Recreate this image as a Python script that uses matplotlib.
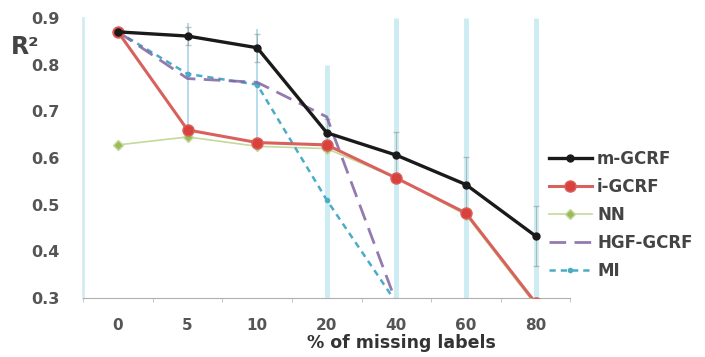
import numpy as np
import matplotlib.pyplot as plt

plt.rcParams['font.family'] = ['DejaVu Sans']

cats = ['0', '5', '10', '20', '40', '60', '80']
m_gcrf = [0.870, 0.861, 0.836, 0.654, 0.606, 0.543, 0.433]
m_err = [0.0, 0.02, 0.03, 0.03, 0.05, 0.06, 0.065]
i_gcrf = [0.870, 0.660, 0.633, 0.628, 0.557, 0.482, 0.290]
nn = [0.628, 0.645, 0.625, 0.620, 0.557, 0.478, 0.285]
hgf = [0.870, 0.770, 0.762, 0.688, 0.290, np.nan, np.nan]
mi = [0.870, 0.780, 0.757, 0.510, 0.290, 0.250, 0.200]
mi_err = [0.0, 0.11, 0.12, 0.29, 0.61, 0.65, 0.70]

x = np.arange(len(cats))

fig = plt.figure(figsize=(7.05, 3.57), dpi=100)
ax = fig.add_axes([0.118, 0.165, 0.691, 0.785])

# big light error bars (MI)
for i in range(len(x)):
    if mi_err[i] == 0:
        continue
    if i < 3:
        ax.errorbar(x[i], mi[i], yerr=mi_err[i], fmt='none', ecolor='#9fd3e3',
                    elinewidth=1.2, linestyle=':', alpha=0.9)
    else:
        ax.errorbar(x[i], mi[i], yerr=mi_err[i], fmt='none', ecolor='#c6eaf1',
                    elinewidth=3.5, alpha=0.9)
ax.errorbar(x, m_gcrf, yerr=m_err, fmt='none', ecolor='#8a8a8a', elinewidth=0.8,
            capsize=2, alpha=0.5)

ax.plot(x, nn, color='#c4d99a', lw=1.2, marker='D', ms=5, mfc='#9bbb59',
        mec='#c4d99a', label='NN', zorder=3)
ax.plot(x, mi, color='#4bacc6', lw=1.8, ls=(0, (2.5, 2)), marker='o', ms=3,
        label='MI', zorder=4)
ax.plot(x, hgf, color='#8064a2', lw=2, ls=(0, (6, 3)), alpha=0.85,
        label='HGF-GCRF', zorder=4)
ax.plot(x, i_gcrf, color='#d9615d', lw=2.2, marker='o', ms=8, mfc='#d9413c',
        mec='#d9615d', label='i-GCRF', zorder=5)
ax.plot(x, m_gcrf, color='#1a1a1a', lw=2.4, marker='o', ms=5,
        label='m-GCRF', zorder=6)

ax.set_xlim(-0.5, len(x) - 0.5)
ax.set_ylim(0.3, 0.9)
ax.set_yticks([0.3, 0.4, 0.5, 0.6, 0.7, 0.8, 0.9])
ax.set_yticklabels(['0.3', '0.4', '0.5', '0.6', '0.7', '0.8', '0.9'],
                   fontsize=11.5, fontweight='bold', color='#555555')
ax.set_xticks(x)
ax.set_xticklabels(cats, fontsize=11, fontweight='bold', color='#555555')
ax.set_xticks(np.arange(-0.5, len(x), 1.0), minor=True)
ax.tick_params(axis='x', which='major', length=0, pad=14)
ax.tick_params(axis='x', which='minor', length=3, color='#bbbbbb')
ax.tick_params(axis='y', length=0, pad=17)
for s in ['top', 'right']:
    ax.spines[s].set_visible(False)
ax.spines['left'].set_color('#d3ecf2')
ax.spines['left'].set_linewidth(2)
ax.spines['bottom'].set_color('#b0b0b0')

handles, labels = ax.get_legend_handles_labels()
order = ['m-GCRF', 'i-GCRF', 'NN', 'HGF-GCRF', 'MI']
hmap = dict(zip(labels, handles))
fig.legend([hmap[k] for k in order], order, loc='upper left',
           bbox_to_anchor=(0.757, 0.622), frameon=False, handlelength=2.6,
           handletextpad=0.3, labelspacing=0.6,
           prop={'size': 12, 'weight': 'bold'}, labelcolor='#444444')

fig.text(0.015, 0.848, 'R²', fontsize=17, fontweight='bold', color='#444444')
fig.text(0.57, 0.025, '% of missing labels', fontsize=12.5, fontweight='bold',
         color='#333333', ha='center')

fig.savefig('out.png', dpi=100)
